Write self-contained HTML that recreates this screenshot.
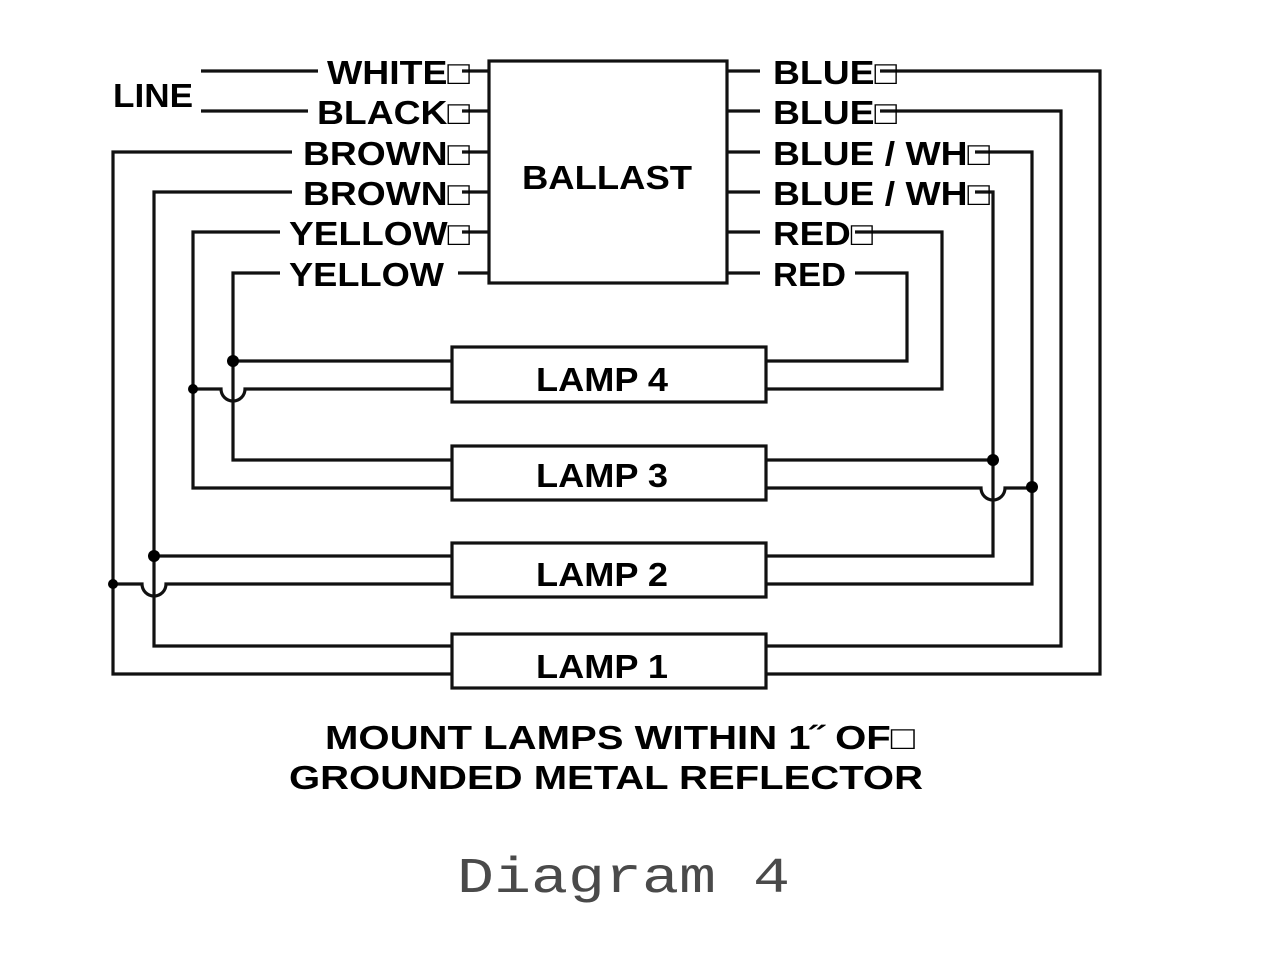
<!DOCTYPE html>
<html><head><meta charset="utf-8"><style>
html,body{margin:0;padding:0;background:#fff;width:1280px;height:966px;overflow:hidden}
svg{display:block}
.t{font-family:"Liberation Sans",Arial,sans-serif;font-weight:bold;font-size:33px;fill:#000}
</style></head><body>
<svg width="1280" height="966" viewBox="0 0 1280 966" xmlns="http://www.w3.org/2000/svg">
<g fill="none" stroke="#111" stroke-width="3.2" stroke-linejoin="miter">
<rect x="489" y="61" width="238" height="222"/>
<rect x="452" y="347" width="314" height="55"/>
<rect x="452" y="446" width="314" height="54"/>
<rect x="452" y="543" width="314" height="54"/>
<rect x="452" y="634" width="314" height="54"/>
<path d="M462 71H489M462 111H489M462 152H489M462 192H489M462 232H489M458 273H489"/>
<path d="M727 71H760M727 111H760M727 152H760M727 192H760M727 232H760M727 273H760"/>
<path d="M201 71H318M201 111H308"/>
<path d="M292 152H113V674H452"/>
<path d="M292 192H154V646H452"/>
<path d="M280 232H193V488H452"/>
<path d="M280 273H233V460H452"/>
<path d="M233 361H452"/>
<path d="M193 389H221A12 12 0 0 0 245 389H452"/>
<path d="M154 556H452"/>
<path d="M113 584H142A12 12 0 0 0 166 584H452"/>
<path d="M880 71H1100V674H766"/>
<path d="M880 111H1061V646H766"/>
<path d="M975 152H1032V584H766"/>
<path d="M975 192H993V556H766"/>
<path d="M855 232H942V389H766"/>
<path d="M855 273H907V361H766"/>
<path d="M766 460H993"/>
<path d="M766 488H981A12 12 0 0 0 1005 488H1032"/>
</g>
<g fill="#000">
<circle cx="233" cy="361" r="6"/>
<circle cx="193" cy="389" r="5"/>
<circle cx="154" cy="556" r="6"/>
<circle cx="113" cy="584" r="5"/>
<circle cx="993" cy="460" r="6"/>
<circle cx="1032" cy="487" r="6"/>
</g>
<g class="t">
<text x="113" y="107" textLength="80" lengthAdjust="spacingAndGlyphs">LINE</text>
<text x="327" y="84" textLength="143" lengthAdjust="spacingAndGlyphs">WHITE□</text>
<text x="317" y="124" textLength="153" lengthAdjust="spacingAndGlyphs">BLACK□</text>
<text x="303" y="165" textLength="167" lengthAdjust="spacingAndGlyphs">BROWN□</text>
<text x="303" y="205" textLength="167" lengthAdjust="spacingAndGlyphs">BROWN□</text>
<text x="289" y="245" textLength="181" lengthAdjust="spacingAndGlyphs">YELLOW□</text>
<text x="289" y="286" textLength="155" lengthAdjust="spacingAndGlyphs">YELLOW</text>
<text x="773" y="84" textLength="124" lengthAdjust="spacingAndGlyphs">BLUE□</text>
<text x="773" y="124" textLength="124" lengthAdjust="spacingAndGlyphs">BLUE□</text>
<text x="773" y="165" textLength="217" lengthAdjust="spacingAndGlyphs">BLUE / WH□</text>
<text x="773" y="205" textLength="217" lengthAdjust="spacingAndGlyphs">BLUE / WH□</text>
<text x="773" y="245" textLength="100" lengthAdjust="spacingAndGlyphs">RED□</text>
<text x="773" y="286" textLength="73" lengthAdjust="spacingAndGlyphs">RED</text>
<text x="522" y="189" textLength="170" lengthAdjust="spacingAndGlyphs">BALLAST</text>
<text x="536" y="391" textLength="132" lengthAdjust="spacingAndGlyphs">LAMP 4</text>
<text x="536" y="487" textLength="132" lengthAdjust="spacingAndGlyphs">LAMP 3</text>
<text x="536" y="586" textLength="132" lengthAdjust="spacingAndGlyphs">LAMP 2</text>
<text x="536" y="678" textLength="132" lengthAdjust="spacingAndGlyphs">LAMP 1</text>
<text x="325" y="749" textLength="590" lengthAdjust="spacingAndGlyphs">MOUNT LAMPS WITHIN 1˝ OF□</text>
<text x="289" y="789" textLength="634" lengthAdjust="spacingAndGlyphs">GROUNDED METAL REFLECTOR</text>
</g>
<text x="457" y="892" font-family="Liberation Mono, monospace" font-size="50" fill="#4a4a4a" textLength="333" lengthAdjust="spacingAndGlyphs">Diagram 4</text>
</svg>
</body></html>
